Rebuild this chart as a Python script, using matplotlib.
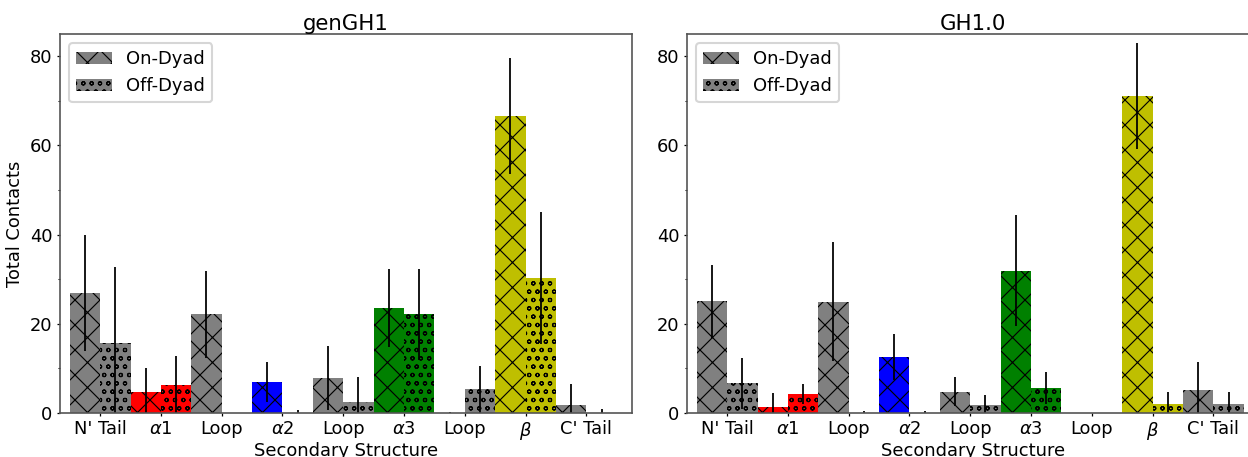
import numpy as np
import matplotlib
matplotlib.use('Agg')
import matplotlib.pyplot as plt
from matplotlib.patches import Patch
from matplotlib.ticker import MultipleLocator

# categories and colours
labels = ["N' Tail", r'$\alpha1$', 'Loop', r'$\alpha2$', 'Loop', r'$\alpha3$', 'Loop', r'$\beta$', "C' Tail"]
colors = ['gray', 'red', 'gray', 'blue', 'gray', 'green', 'gray', 'y', 'gray']

# genGH1
gen_on = [27.0, 4.6, 22.1, 6.9, 7.8, 23.5, 0.0, 66.7, 1.9]
gen_on_err = [13.0, 5.4, 9.7, 4.5, 7.2, 8.8, 0.3, 13.0, 4.5]
gen_off = [15.6, 6.3, 0.0, 0.0, 2.5, 22.1, 5.3, 30.2, 0.0]
gen_off_err = [17.2, 6.5, 0.0, 0.6, 5.6, 10.3, 5.3, 14.8, 1.0]

# GH1.0
gh_on = [25.1, 1.4, 25.0, 12.6, 4.8, 31.9, 0.0, 71.1, 5.2]
gh_on_err = [8.2, 3.0, 13.3, 5.1, 3.2, 12.5, 0.0, 11.8, 6.3]
gh_off = [6.7, 4.2, 0.0, 0.0, 1.8, 5.7, 0.0, 2.0, 2.0]
gh_off_err = [5.7, 2.2, 0.5, 0.5, 2.2, 3.6, 0.0, 2.6, 2.6]

DPI = 150
plt.rcParams['font.family'] = ['DejaVu Sans']
plt.rcParams['font.size'] = 8.6
plt.rcParams['hatch.linewidth'] = 0.55
plt.rcParams['axes.linewidth'] = 0.8

fig = plt.figure(figsize=(1248 / DPI, 457 / DPI), dpi=DPI)
W, H = 1248, 457
ax1 = fig.add_axes([60 / W, 44 / H, 572 / W, 379 / H])
ax2 = fig.add_axes([687 / W, 44 / H, 572 / W, 379 / H])

x = np.arange(len(labels))
w = 0.5
ekw = dict(elinewidth=0.85, ecolor='black', capsize=0)
on_hatch = 'xx'
off_hatch = 'ooo'


def draw(ax, on, on_err, off, off_err, title, ylabel=True):
    ax.bar(x - w / 2, on, w, yerr=on_err, color=colors, edgecolor='black',
           linewidth=0, hatch=on_hatch, error_kw=ekw)
    ax.bar(x + w / 2, off, w, yerr=off_err, color=colors, edgecolor='black',
           linewidth=0, hatch=off_hatch, error_kw=ekw)
    ax.set_xlim(-0.66, 8.75)
    ax.set_ylim(0, 85)
    ax.set_xticks(x)
    ax.set_xticklabels(labels)
    ax.yaxis.set_major_locator(MultipleLocator(20))
    ax.yaxis.set_minor_locator(MultipleLocator(10))
    ax.tick_params(which='major', length=1.5, width=0.6, pad=2)
    ax.tick_params(which='minor', length=0.9, width=0.5)
    for s in ax.spines.values():
        s.set_color('#555555')
    ax.set_title(title, fontsize=10.2, pad=0.5)
    ax.set_xlabel('Secondary Structure', labelpad=0)
    if ylabel:
        ax.set_ylabel('Total Contacts', labelpad=3)
    handles = [Patch(facecolor='gray', edgecolor='black', linewidth=0, hatch=on_hatch),
               Patch(facecolor='gray', edgecolor='black', linewidth=0, hatch=off_hatch)]
    ax.legend(handles, ['On-Dyad', 'Off-Dyad'], loc='upper left')


draw(ax1, gen_on, gen_on_err, gen_off, gen_off_err, 'genGH1')
draw(ax2, gh_on, gh_on_err, gh_off, gh_off_err, 'GH1.0', ylabel=False)

fig.savefig('out.png', dpi=DPI)
